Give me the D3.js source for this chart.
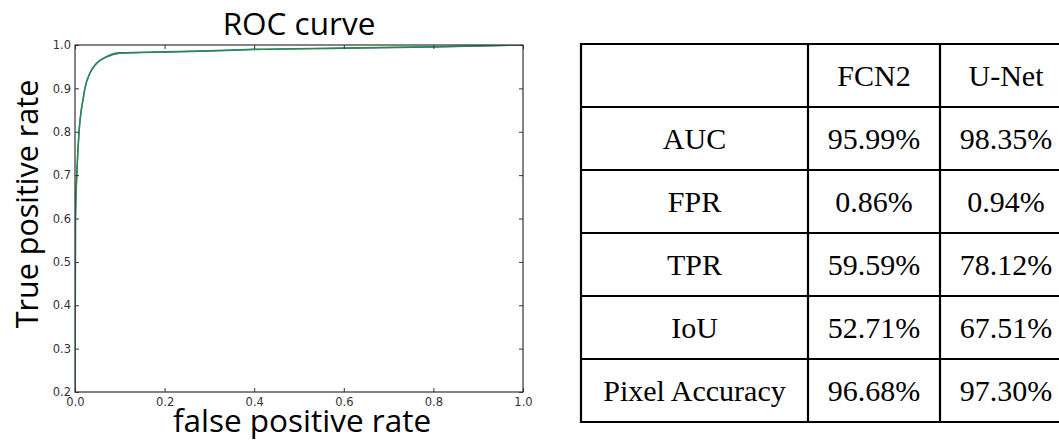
<!DOCTYPE html>
<html>
<head>
<meta charset="utf-8">
<script src="https://cdn.jsdelivr.net/npm/d3@7"></script>
<style>
  html, body { margin: 0; padding: 0; background: #fff; }
  svg { display: block; }
</style>
</head>
<body>
<svg id="chart" width="1059" height="441"></svg>
<script>
// ROC curves (false positive rate vs true positive rate)
const unetFpr = [0, 0.001, 0.004, 0.009, 0.014, 0.018, 0.022, 0.033, 0.048, 0.07, 0.1, 0.15, 0.28, 0.4, 0.6, 0.8, 1.0];
const unetTpr = [0, 0.6, 0.7, 0.8, 0.85, 0.875, 0.9, 0.935, 0.958, 0.973, 0.982, 0.983, 0.986, 0.99, 0.993, 0.996, 1.0];
const fcn2Fpr = [0, 0.001, 0.004, 0.009, 0.014, 0.018, 0.022, 0.033, 0.048, 0.07, 0.1, 0.15, 0.28, 0.4, 0.6, 0.8, 1.0];
const fcn2Tpr = [0, 0.6, 0.7, 0.8, 0.85, 0.874, 0.899, 0.934, 0.957, 0.972, 0.981, 0.9825, 0.9855, 0.9895, 0.9925, 0.9955, 1.0];

const xTicks = [0, 0.2, 0.4, 0.6, 0.8, 1.0];
const yTicks = [0.2, 0.3, 0.4, 0.5, 0.6, 0.7, 0.8, 0.9, 1.0];

// Metrics table
const headers = ["", "FCN2", "U-Net"];
const metrics = ["AUC", "FPR", "TPR", "IoU", "Pixel Accuracy"];
const fcn2Scores = ["95.99%", "0.86%", "59.59%", "52.71%", "96.68%"];
const unetScores = ["98.35%", "0.94%", "78.12%", "67.51%", "97.30%"];

const svg = d3.select("#chart");
svg.append("rect").attr("width", 1059).attr("height", 441).attr("fill", "#fff");

// ---------- ROC plot ----------
const plot = { left: 75, top: 45, right: 523, bottom: 392 };
const x = d3.scaleLinear().domain([0, 1]).range([plot.left, plot.right]);
const y = d3.scaleLinear().domain([0.2, 1]).range([plot.bottom, plot.top]);
const fmt = d3.format(".1f");
const axisColor = "#333";

svg.append("defs").append("clipPath").attr("id", "plot-clip")
  .append("rect")
  .attr("x", plot.left).attr("y", plot.top)
  .attr("width", plot.right - plot.left).attr("height", plot.bottom - plot.top);

const line = d3.line()
  .x(d => x(d[0]))
  .y(d => y(d[1]))
  .curve(d3.curveMonotoneX);

const curves = svg.append("g").attr("clip-path", "url(#plot-clip)");
curves.append("path")
  .datum(d3.zip(fcn2Fpr, fcn2Tpr))
  .attr("d", line)
  .attr("fill", "none")
  .attr("stroke", "#3a6fb8")
  .attr("stroke-width", 1.4);
curves.append("path")
  .datum(d3.zip(unetFpr, unetTpr))
  .attr("d", line)
  .attr("fill", "none")
  .attr("stroke", "#2a8a48")
  .attr("stroke-width", 1.5);

function styleAxis(g, showLabels) {
  g.select(".domain").remove();
  g.selectAll(".tick line").attr("stroke", axisColor);
  g.selectAll(".tick text")
    .attr("fill", "#333")
    .attr("font-family", "DejaVu Sans")
    .attr("font-size", 11.5);
  if (!showLabels) g.selectAll(".tick text").remove();
}

svg.append("g")
  .attr("transform", `translate(0,${plot.bottom})`)
  .call(d3.axisBottom(x).tickValues(xTicks).tickFormat(fmt).tickSizeInner(-4).tickSizeOuter(0).tickPadding(6))
  .call(g => styleAxis(g, true));
svg.append("g")
  .attr("transform", `translate(0,${plot.top})`)
  .call(d3.axisTop(x).tickValues(xTicks).tickSizeInner(-4).tickSizeOuter(0))
  .call(g => styleAxis(g, false));
svg.append("g")
  .attr("transform", `translate(${plot.left},0)`)
  .call(d3.axisLeft(y).tickValues(yTicks).tickFormat(fmt).tickSizeInner(-4).tickSizeOuter(0).tickPadding(4))
  .call(g => styleAxis(g, true));
svg.append("g")
  .attr("transform", `translate(${plot.right},0)`)
  .call(d3.axisRight(y).tickValues(yTicks).tickSizeInner(-4).tickSizeOuter(0))
  .call(g => styleAxis(g, false));

svg.append("rect")
  .attr("x", plot.left).attr("y", plot.top)
  .attr("width", plot.right - plot.left).attr("height", plot.bottom - plot.top)
  .attr("fill", "none")
  .attr("stroke", axisColor)
  .attr("stroke-width", 1.2);

const labelFont = "Open Sans";
svg.append("text")
  .attr("x", (plot.left + plot.right) / 2).attr("y", 35)
  .attr("text-anchor", "middle")
  .attr("font-family", labelFont).attr("font-size", 31.5)
  .attr("fill", "#000")
  .text("ROC curve");
svg.append("text")
  .attr("x", 302).attr("y", 432)
  .attr("text-anchor", "middle")
  .attr("font-family", labelFont).attr("font-size", 31.5)
  .attr("fill", "#000")
  .text("false positive rate");
svg.append("text")
  .attr("transform", "translate(38,204) rotate(-90)")
  .attr("text-anchor", "middle")
  .attr("font-family", labelFont).attr("font-size", 30.5)
  .attr("fill", "#000")
  .text("True positive rate");

// ---------- Table ----------
const table = { left: 581, top: 44, bottom: 422 };
const colWidths = [227, 132, 132];
const colEdges = colWidths.reduce((acc, w) => (acc.push(acc[acc.length - 1] + w), acc), [table.left]);
const rowKeys = ["header"].concat(metrics);
const row = d3.scaleBand().domain(rowKeys).range([table.top, table.bottom]);

const rows = [headers].concat(metrics.map((m, i) => [m, fcn2Scores[i], unetScores[i]]));

const tg = svg.append("g");
rows.forEach((cells, ri) => {
  const y0 = row(rowKeys[ri]);
  cells.forEach((txt, ci) => {
    if (!txt) return;
    tg.append("text")
      .attr("x", (colEdges[ci] + colEdges[ci + 1]) / 2)
      .attr("y", y0 + row.bandwidth() / 2 + 10.5)
      .attr("text-anchor", "middle")
      .attr("font-family", "Liberation Serif")
      .attr("font-size", 30)
      .attr("fill", "#000")
      .text(txt);
  });
});

// grid lines
rowKeys.concat([null]).forEach(k => {
  const yy = k === null ? table.bottom : row(k);
  tg.append("line")
    .attr("x1", colEdges[0] - 1).attr("x2", colEdges[colEdges.length - 1] + 1)
    .attr("y1", yy).attr("y2", yy)
    .attr("stroke", "#000").attr("stroke-width", 2.2);
});
colEdges.forEach(xx => {
  tg.append("line")
    .attr("x1", xx).attr("x2", xx)
    .attr("y1", table.top - 1).attr("y2", table.bottom + 1)
    .attr("stroke", "#000").attr("stroke-width", 2.2);
});
</script>
</body>
</html>
